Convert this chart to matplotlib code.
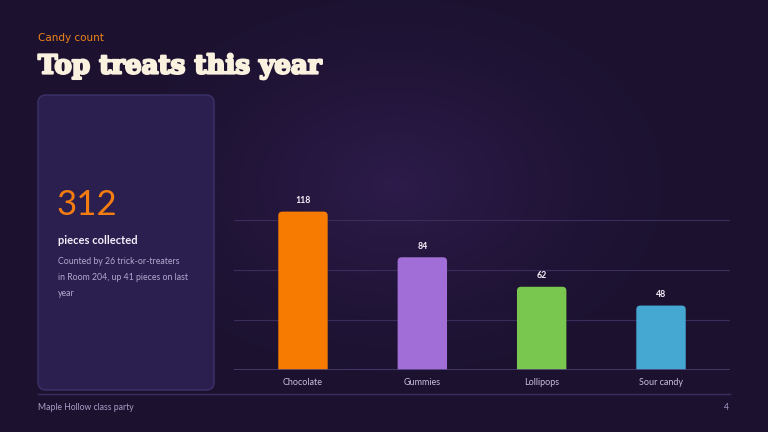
import numpy as np
import matplotlib
matplotlib.use('Agg')
import matplotlib.pyplot as plt
import matplotlib.patheffects as pe
from matplotlib.patches import FancyBboxPatch

# data
categories = ['Chocolate', 'Gummies', 'Lollipops', 'Sour candy']
counts = [118, 84, 62, 48]
bar_colors = ['#f77b00', '#a16dd6', '#7ac74f', '#45a8d3']
total = 312

W, H = 768, 432
fig = plt.figure(figsize=(W / 100, H / 100), dpi=100)

# background with soft purple glow
bg = fig.add_axes([0, 0, 1, 1])
yy, xx = np.mgrid[0:H, 0:W]
d = np.sqrt(((xx - 395) / 300.0) ** 2 + ((yy - 185) / 210.0) ** 2)
glow = np.clip(1 - d, 0, 1) ** 1.5
base = np.array([0x1c, 0x12, 0x30]) / 255
hi = np.array([0x2d, 0x1b, 0x4b]) / 255
img = base[None, None, :] + glow[:, :, None] * (hi - base)[None, None, :]
bg.imshow(img, extent=[0, W, H, 0], aspect='auto')
bg.set_xlim(0, W)
bg.set_ylim(H, 0)
bg.axis('off')

# headings
bg.text(38, 38, 'Candy count', color='#f0821a', fontsize=7.5,
        family='DejaVu Sans', va='center', ha='left')
title = bg.text(38, 66, 'Top treats this year', color='#fbf1df', fontsize=18.8,
                family='DejaVu Serif', weight='bold', va='center', ha='left')
title.set_path_effects([pe.withStroke(linewidth=1.6, foreground='#fbf1df')])

# summary card
card = FancyBboxPatch((38, 95), 176, 295, boxstyle='round,pad=0,rounding_size=8',
                      facecolor='#2a1f4f', edgecolor='#3e3369', linewidth=1)
bg.add_patch(card)
bg.text(57, 205, str(total), color='#f57c0f', fontsize=25, family='Lato',
        va='center', ha='left')
bg.text(58, 241, 'pieces collected', color='#f4effa', fontsize=8, weight='bold',
        family='Lato', va='center', ha='left')
desc = ['Counted by 26 trick-or-treaters', 'in Room 204, up 41 pieces on last', 'year']
for i, line in enumerate(desc):
    bg.text(58, 262 + i * 16, line, color='#b3a8cf', fontsize=6.3,
            family='Lato', va='center', ha='left')

# footer
bg.plot([38, 730], [394, 394], color='#3a2e5e', lw=1)
bg.text(38, 408, 'Maple Hollow class party', color='#a89ec4', fontsize=6.2,
        family='Lato', va='center', ha='left')
bg.text(729, 408, '4', color='#a89ec4', fontsize=6.2, family='Lato',
        va='center', ha='right')

# bar chart
ax = fig.add_axes([234 / W, 1 - 370 / H, (730 - 234) / W, 200 / H])
ax.patch.set_alpha(0)
ymax = 149
x = np.arange(len(categories))
for frac in (0.25, 0.5, 0.75):
    ax.axhline(ymax * frac, color='#3a2d5c', lw=0.8, zorder=0)
bars = ax.bar(x, counts, width=0.414, color=bar_colors, zorder=2)
# swap each bar for a box with rounded top corners (bottom corners clipped at 0)
px_per_x = (730 - 234) / 4.156
px_per_y = 200 / ymax
r = 4
for b, c in zip(bars, bar_colors):
    b.set_visible(False)
    bx, bw, bh = b.get_x(), b.get_width(), b.get_height()
    pad = 2 * r / px_per_y
    box = FancyBboxPatch((bx, -pad), bw, bh + pad,
                         boxstyle=f'round,pad=0,rounding_size={r / px_per_x}',
                         mutation_aspect=px_per_x / px_per_y,
                         facecolor=c, edgecolor='none', zorder=2)
    ax.add_patch(box)
ax.axhline(0, color='#4a3d72', lw=1.2, zorder=3)
for xi, v in zip(x, counts):
    ax.annotate(str(v), (xi, v), xytext=(0, 11), textcoords='offset pixels',
                ha='center', va='center', color='#f6f1fb', fontsize=6.3,
                weight='bold', family='Lato')
ax.set_xlim(-0.578, 3.578)
ax.set_ylim(0, ymax)
ax.set_xticks(x)
ax.set_xticklabels(categories, color='#c6bedb', fontsize=6.5, family='Lato')
ax.tick_params(axis='x', length=0, pad=6)
ax.set_yticks([])
for s in ax.spines.values():
    s.set_visible(False)

fig.savefig('out.png', dpi=100, facecolor='#1c1230')
